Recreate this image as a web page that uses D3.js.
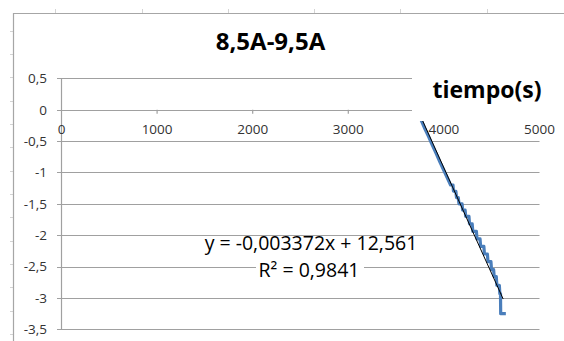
<!DOCTYPE html>
<html>
<head>
<meta charset="utf-8">
<script src="https://cdn.jsdelivr.net/npm/d3@7"></script>
<style>
  body { margin: 0; background: #fff; }
  svg { display: block; font-family: "Open Sans", sans-serif; }
</style>
</head>
<body>
<svg width="564" height="341"></svg>
<script>
// series: tiempo (s) vs value
const tiempo = [3715, 3760, 3800, 3840, 3880, 3920, 3960, 4000, 4040, 4070,
                4095, 4100, 4125, 4132, 4150, 4158, 4190, 4196, 4222, 4228,
                4262, 4268, 4296, 4302, 4340, 4346, 4378, 4384, 4418, 4424,
                4455, 4461, 4492, 4498, 4520, 4526, 4548, 4554, 4580, 4585,
                4592, 4594, 4648];
const valor = [0.00, -0.16, -0.30, -0.43, -0.57, -0.70, -0.84, -0.97, -1.10, -1.20,
               -1.20, -1.30, -1.30, -1.40, -1.40, -1.50, -1.50, -1.60, -1.60, -1.70,
               -1.70, -1.82, -1.82, -1.94, -1.94, -2.06, -2.06, -2.18, -2.18, -2.30,
               -2.30, -2.42, -2.42, -2.55, -2.55, -2.66, -2.66, -2.80, -2.80, -2.93,
               -2.93, -3.25, -3.25];

// linear trend line
const trendSlope = -0.003372;
const trendIntercept = 12.561;
const trendRange = [3715, 4620];

const xTicks = [0, 1000, 2000, 3000, 4000, 5000];
const xTickLabels = ["0", "1000", "2000", "3000", "4000", "5000"];
const yTicks = [0.5, 0, -0.5, -1, -1.5, -2, -2.5, -3, -3.5];
const yTickLabels = ["0,5", "0", "-0,5", "-1", "-1,5", "-2", "-2,5", "-3", "-3,5"];

const chartTitle = "8,5A-9,5A";
const xTitle = "tiempo(s)";
const eqLine1 = "y = -0,003372x + 12,561";
const eqLine2 = "R\u00b2 = 0,9841";

let svg = d3.select("svg");

let x = d3.scaleLinear().domain([0, 5000]).range([61.5, 539.5]);
let y = d3.scaleLinear().domain([-3.5, 0.5]).range([329.3, 78.3]);

// spreadsheet cell marks outside the chart frame
let bg = svg.append("g").attr("stroke", "#d4d4d4").attr("stroke-width", 1);
[55, 142, 228, 314, 400, 487].forEach(function(px) {
    bg.append("line").attr("x1", px + 0.5).attr("x2", px + 0.5).attr("y1", 9).attr("y2", 13);
});
d3.range(30.7, 341, 23.33).forEach(function(py) {
    bg.append("line").attr("x1", 10).attr("x2", 13).attr("y1", Math.round(py) + 0.5).attr("y2", Math.round(py) + 0.5);
});

// chart frame
svg.append("path")
    .attr("d", "M13.5,341 V13.5 H564")
    .attr("fill", "none")
    .attr("stroke", "#a6a6a6")
    .attr("stroke-width", 1.2);

// horizontal gridlines (with outside tick stubs)
svg.append("g")
    .attr("class", "grid")
    .selectAll("line")
    .data(yTicks)
    .enter().append("line")
    .attr("x1", 57)
    .attr("x2", x(5000))
    .attr("y1", function(d) { return Math.round(y(d)) + 0.5; })
    .attr("y2", function(d) { return Math.round(y(d)) + 0.5; })
    .attr("stroke", "#a0a0a0")
    .attr("stroke-width", 1.2);

// vertical axis line
svg.append("line")
    .attr("x1", x(0)).attr("x2", x(0))
    .attr("y1", y(0.5)).attr("y2", y(-3.5))
    .attr("stroke", "#a0a0a0")
    .attr("stroke-width", 1.2);

// x ticks hanging under the zero line
svg.append("g")
    .selectAll("line")
    .data(xTicks.slice(1))
    .enter().append("line")
    .attr("x1", function(d) { return x(d); })
    .attr("x2", function(d) { return x(d); })
    .attr("y1", y(0))
    .attr("y2", y(0) + 4)
    .attr("stroke", "#a0a0a0")
    .attr("stroke-width", 1.2);

// data series
let line = d3.line()
    .x(function(d) { return x(d[0]); })
    .y(function(d) { return y(d[1]); });

svg.append("path")
    .datum(d3.zip(tiempo, valor))
    .attr("d", line)
    .attr("fill", "none")
    .attr("stroke", "#4a7ebb")
    .attr("stroke-width", 3.2)
    .attr("stroke-linejoin", "round");

// trend line
svg.append("path")
    .datum(trendRange.map(function(t) { return [t, trendSlope * t + trendIntercept]; }))
    .attr("d", line)
    .attr("fill", "none")
    .attr("stroke", "#000")
    .attr("stroke-width", 1);

// white box of the axis title
svg.append("rect")
    .attr("x", 412).attr("y", 60)
    .attr("width", 152).attr("height", 61)
    .attr("fill", "#fff");

// tick labels
svg.append("g")
    .selectAll("text")
    .data(xTicks)
    .enter().append("text")
    .attr("x", function(d) { return x(d); })
    .attr("y", 134)
    .attr("text-anchor", "middle")
    .attr("font-size", 13.5)
    .attr("fill", "#333")
    .text(function(d, i) { return xTickLabels[i]; });

svg.append("g")
    .selectAll("text")
    .data(yTicks)
    .enter().append("text")
    .attr("x", 47)
    .attr("y", function(d) { return y(d); })
    .attr("dy", "0.36em")
    .attr("text-anchor", "end")
    .attr("font-size", 13.5)
    .attr("fill", "#333")
    .text(function(d, i) { return yTickLabels[i]; });

// titles
svg.append("text")
    .attr("x", 270.5).attr("y", 50)
    .attr("text-anchor", "middle")
    .attr("font-size", 24)
    .attr("font-weight", "bold")
    .attr("fill", "#000")
    .text(chartTitle);

svg.append("text")
    .attr("x", 487).attr("y", 98)
    .attr("text-anchor", "middle")
    .attr("font-size", 23)
    .attr("font-weight", "bold")
    .attr("fill", "#000")
    .text(xTitle);

// trendline label
svg.append("rect")
    .attr("x", 256).attr("y", 260)
    .attr("width", 108).attr("height", 20)
    .attr("fill", "#fff");

svg.append("text")
    .attr("x", 311).attr("y", 249.5)
    .attr("text-anchor", "middle")
    .attr("font-size", 19.5)
    .attr("fill", "#000")
    .text(eqLine1);

svg.append("text")
    .attr("x", 309).attr("y", 276.7)
    .attr("text-anchor", "middle")
    .attr("font-size", 19.5)
    .attr("fill", "#000")
    .text(eqLine2);
</script>
</body>
</html>
